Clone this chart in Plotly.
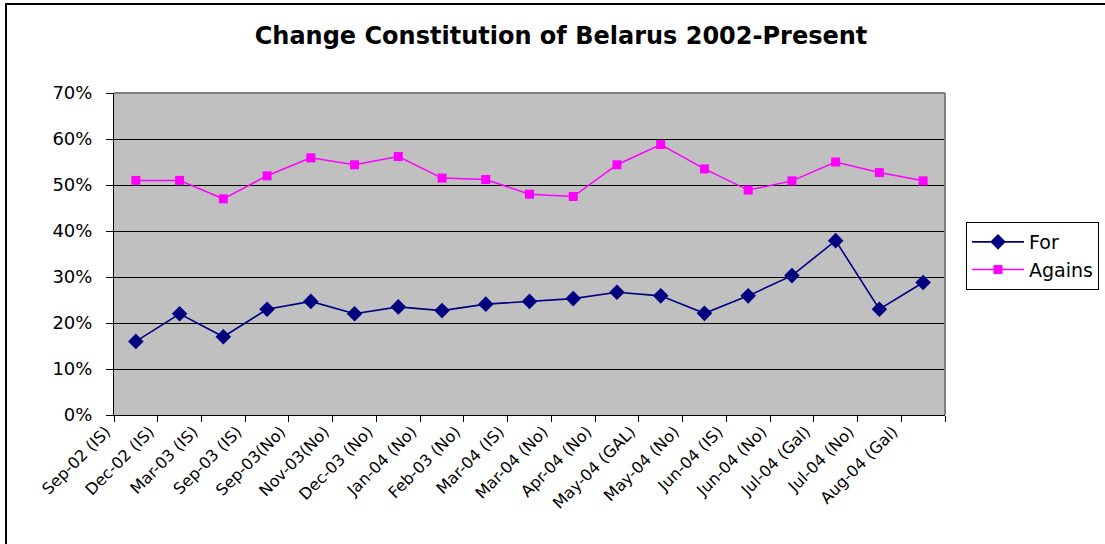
import plotly.graph_objects as go

categories = ["Sep-02 (IS)", "Dec-02 (IS)", "Mar-03 (IS)", "Sep-03 (IS)", "Sep-03(No)",
              "Nov-03(No)", "Dec-03 (No)", "Jan-04 (No)", "Feb-03 (No)", "Mar-04 (IS)",
              "Mar-04 (No)", "Apr-04 (No)", "May-04 (GAL)", "May-04 (No)", "Jun-04 (IS)",
              "Jun-04 (No)", "Jul-04 (Gal)", "Jul-04 (No)", "Aug-04 (Gal)"]
for_vals = [0.16, 0.22, 0.17, 0.23, 0.247, 0.22, 0.235, 0.227, 0.241, 0.247,
            0.253, 0.267, 0.259, 0.221, 0.259, 0.303, 0.379, 0.23, 0.288]
against_vals = [0.51, 0.51, 0.47, 0.52, 0.559, 0.544, 0.562, 0.515, 0.512, 0.48,
                0.475, 0.544, 0.588, 0.535, 0.489, 0.509, 0.55, 0.527, 0.509]

FONT = "DejaVu Sans, Liberation Sans, Arial"

fig = go.Figure()
fig.add_trace(go.Scatter(x=categories, y=for_vals, name="For", mode="lines+markers",
                         line=dict(color="#000080", width=1.6),
                         marker=dict(symbol="diamond", size=12, color="#000080")))
fig.add_trace(go.Scatter(x=categories, y=against_vals, name="Agains", mode="lines+markers",
                         line=dict(color="#FF00FF", width=1.5),
                         marker=dict(symbol="square", size=9, color="#FF00FF")))

L, R, T, B = 114, 160, 93, 129
W, H = 1105, 544
pw, ph = W - L - R, H - T - B

fig.update_layout(
    width=W, height=H,
    margin=dict(l=L, r=R, t=T, b=B, autoexpand=False),
    paper_bgcolor="white", plot_bgcolor="#C0C0C0",
    font=dict(family=FONT, size=16, color="black"),
    title=dict(text="<b>Change Constitution of Belarus 2002-Present</b>",
               x=561 / W, xanchor="center", y=1 - 36 / H, yanchor="middle",
               font=dict(family=FONT, size=24)),
    showlegend=True,
    legend=dict(xref="container", yref="container",
                x=966 / W, y=1 - 222 / H, xanchor="left", yanchor="top",
                bgcolor="white", bordercolor="black", borderwidth=1,
                font=dict(family=FONT, size=19), itemwidth=52, tracegroupgap=0),
    xaxis=dict(type="category", range=[-0.5, 18.5], tickangle=-45,
               tickson="boundaries", ticks="outside", ticklen=6, tickcolor="black",
               showgrid=False, showline=True, linecolor="black", linewidth=1,
               tickfont=dict(family=FONT, size=16), ticklabelshift=-30,
               automargin=False),
    yaxis=dict(range=[0, 0.7], dtick=0.1, tickformat=".0%", ticks="outside", ticklen=7,
               tickcolor="black", showgrid=True, gridcolor="black", gridwidth=1,
               showline=True, linecolor="black", linewidth=1, zeroline=False,
               tickfont=dict(family=FONT, size=18), ticklabelstandoff=10,
               automargin=False),
)

# plot area border (top/right, gray)
fig.add_shape(type="line", xref="paper", yref="paper", x0=0, x1=1, y0=1, y1=1,
              line=dict(color="#808080", width=2))
fig.add_shape(type="line", xref="paper", yref="paper", x0=1, x1=1, y0=0, y1=1,
              line=dict(color="#808080", width=2))
# outer chart border
fig.add_shape(type="rect", xref="paper", yref="paper",
              x0=(6 - L) / pw, x1=(W + 5 - L) / pw,
              y0=-(H + 5 - (T + ph)) / ph, y1=1 + (T - 4) / ph,
              line=dict(color="black", width=2), layer="below")

fig.write_html("out.html", config={"displayModeBar": False},
               post_script="document.body.style.margin='0';")
